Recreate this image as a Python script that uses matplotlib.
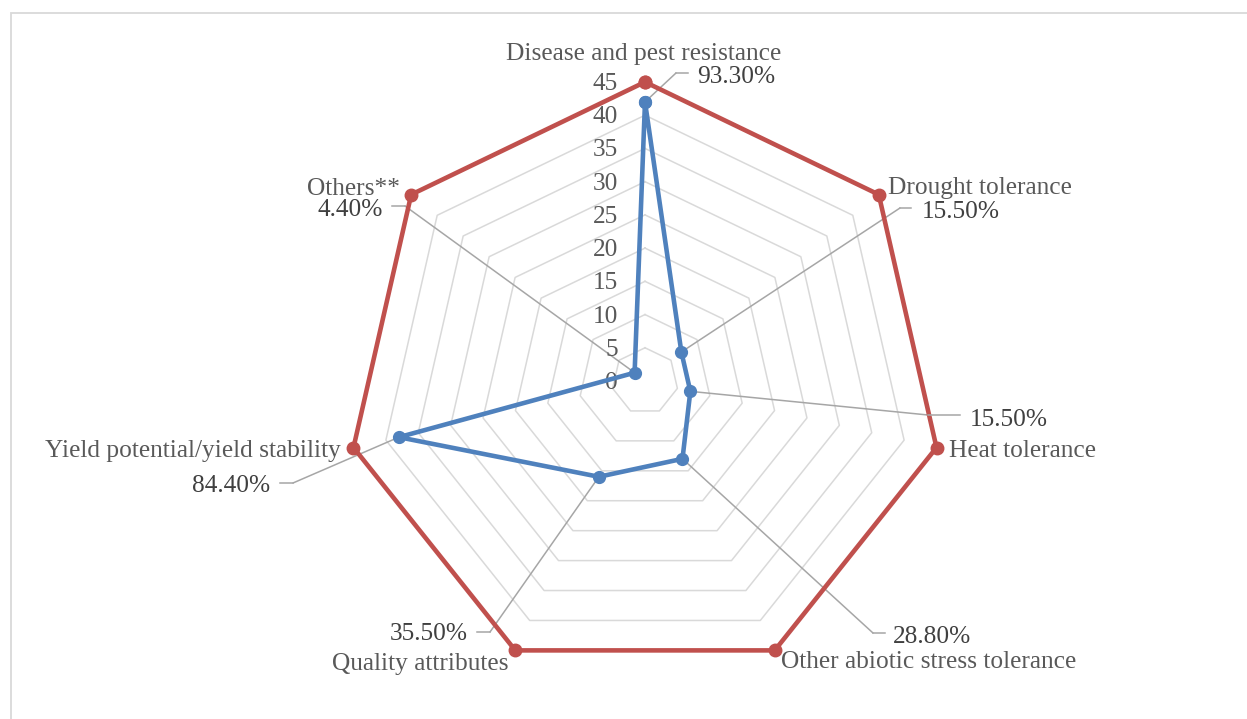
import numpy as np
import matplotlib
matplotlib.use('Agg')
from matplotlib import pyplot as plt
from matplotlib.lines import Line2D
from matplotlib.patches import Rectangle

W, H = 1247, 719

categories = ['Disease and pest resistance', 'Drought tolerance', 'Heat tolerance',
              'Other abiotic stress tolerance', 'Quality attributes',
              'Yield potential/yield stability', 'Others**']
respondents = [42, 7, 7, 13, 16, 38, 2]
total = [45, 45, 45, 45, 45, 45, 45]
pct_labels = ['93.30%', '15.50%', '15.50%', '28.80%', '35.50%', '84.40%', '4.40%']
ring_values = [0, 5, 10, 15, 20, 25, 30, 35, 40, 45]

RED = '#C0504D'
BLUE = '#4F81BD'
GRID = '#D9D9D9'
LEADER = '#A6A6A6'
CAT_COL = '#595959'
LAB_COL = '#404040'
FONT = 'Liberation Serif'
FS = 18.3
DY = 2  # small downward nudge for all text


def fx(x):
    return x / W


def fy(y):
    # y measured from the top of the picture
    return 1 - y / H


fig = plt.figure(figsize=(W / 100, H / 100), dpi=100)
plt.rcParams['font.family'] = FONT

# light border of the chart area
fig.patches.append(Rectangle((fx(11), fy(740)), 2, fy(13) - fy(740),
                             transform=fig.transFigure, fill=False,
                             edgecolor=GRID, linewidth=1.3))

# polar axes: centre (645, 381), radius 299 px for value 45
cx, cy, R = 645, 381, 299
ax = fig.add_axes([fx(cx - R), fy(cy + R), 2 * R / W, 2 * R / H], projection='polar')
ax.set_theta_offset(np.pi / 2)
ax.set_theta_direction(-1)
ax.set_ylim(0, 45)
ax.grid(False)
ax.set_xticks([])
ax.set_yticks([])
ax.spines['polar'].set_visible(False)
ax.patch.set_alpha(0)

angles = np.arange(len(categories)) * 2 * np.pi / len(categories)
closed = np.append(angles, angles[0])

# heptagonal gridlines
for r in ring_values[1:]:
    ax.plot(closed, [r] * len(closed), color=GRID, linewidth=1.1, zorder=1)

# ring labels on the top spoke
for r in ring_values:
    ax.annotate(str(r), xy=(0, r), xytext=(-27, -DY), textcoords='offset pixels',
                ha='right', va='center', fontsize=FS, color=CAT_COL,
                annotation_clip=False)

# series
ax.plot(closed, total + total[:1], color=RED, linewidth=3.3, marker='o',
        markersize=9, zorder=3, clip_on=False)
ax.plot(closed, respondents + respondents[:1], color=BLUE, linewidth=3.3,
        marker='o', markersize=8.5, zorder=4, clip_on=False)

# category labels (pixel positions, top-left origin)
cat_pos = [(644, 52, 'center'), (888, 186, 'left'), (949, 449, 'left'),
           (781, 660, 'left'), (508, 662, 'right'), (341, 449, 'right'),
           (400, 187, 'right')]
for name, (x, y, ha) in zip(categories, cat_pos):
    fig.text(fx(x), fy(y + DY), name, ha=ha, va='center', fontsize=FS, color=CAT_COL)

# data labels with leader lines: text pos, elbow, leader end
lab_pos = [((697, 75, 'left'), (676, 73), (688, 73)),
           ((922, 210, 'left'), (900, 208), (911, 208)),
           ((970, 418, 'left'), (928, 415), (960, 415)),
           ((893, 635, 'left'), (873, 633), (885, 633)),
           ((468, 632, 'right'), (490, 632), (477, 632)),
           ((270, 484, 'right'), (293, 483), (280, 483)),
           ((383, 208, 'right'), (405, 206), (392, 206))]
for th, v, txt, ((tx, ty, ha), elbow, end) in zip(angles, respondents, pct_labels, lab_pos):
    ax.annotate('', xy=(th, v), xycoords='data',
                xytext=(fx(elbow[0]), fy(elbow[1])), textcoords='figure fraction',
                arrowprops=dict(arrowstyle='-', color=LEADER, linewidth=1.1,
                                shrinkA=0, shrinkB=0),
                annotation_clip=False, zorder=2)
    fig.add_artist(Line2D([fx(elbow[0]), fx(end[0])], [fy(elbow[1]), fy(end[1])],
                          color=LEADER, linewidth=1.1))
    fig.text(fx(tx), fy(ty + DY), txt, ha=ha, va='center', fontsize=FS, color=LAB_COL)

fig.savefig('out.png', dpi=100)
